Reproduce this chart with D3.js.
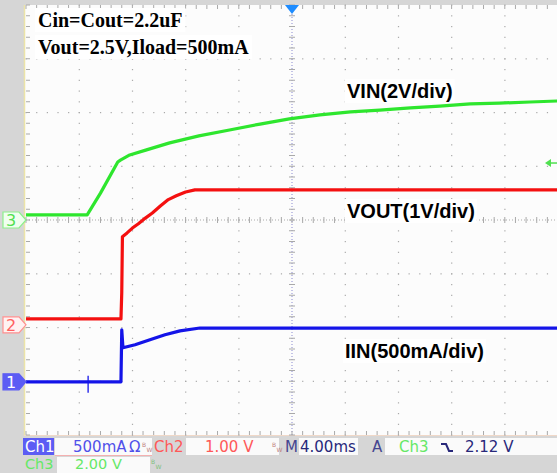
<!DOCTYPE html>
<html><head><meta charset="utf-8">
<script src="https://cdn.jsdelivr.net/npm/d3@7"></script>
<style>html,body{margin:0;padding:0;background:#d6d6d6;}svg{display:block}</style>
</head><body><svg id="c" width="557" height="473"></svg>
<script>
// ---- data (time in ms, trigger at 0) ----
const vinTime  = [-20, -15.4, -14.4, -13.1, -12.9, -12.2, -11, -9.2, -7, -4.7, -2.4, -0.2, 2.1, 4.4, 6.6, 8.9, 11.1, 13.4, 15.6, 17.9, 20];
const vinVolts = [0.19, 0.19, 1.0, 2.16, 2.23, 2.42, 2.6, 2.87, 3.13, 3.35, 3.57, 3.76, 3.91, 4.02, 4.09, 4.17, 4.24, 4.32, 4.35, 4.39, 4.43];
const voutTime  = [-20, -12.86, -12.8, -12.75, -12.4, -12.0, -11.55, -11.0, -10.5, -9.9, -9.3, -8.7, -8.0, -7.3, 20];
const voutVolts = [0.11, 0.11, 0.6, 1.64, 1.71, 1.80, 1.88, 1.99, 2.08, 2.21, 2.33, 2.40, 2.47, 2.51, 2.51];
const iinTime = [-20, -12.86, -12.8, -12.71, -11.8, -10.68, -9.55, -8.42, -6.92, 20];
const iinMilliamps = [0, 0, 484, 316, 344, 391, 437, 474, 500, 500];
const glitchTime = -15.33, glitchMin = -102, glitchMax = 56;
const seriesLabels = ["VIN(2V/div)", "VOUT(1V/div)", "IIN(500mA/div)"];
const noteLines = ["Cin=Cout=2.2uF", "Vout=2.5V,Iload=500mA"];
const triggerLevel = 2.12;

const svg = d3.select("#c");
const X0 = 26, X1 = 558, Y0 = 5, Y1 = 435;
const xScale = d3.scaleLinear().domain([-20, 20]).range([X0, X1]);
const yDiv = d3.scaleLinear().domain([-4, 4]).range([Y1, Y0]);
function chScale(perDiv, offDiv){ return d3.scaleLinear().domain([(-4-offDiv)*perDiv, (4-offDiv)*perDiv]).range([Y1, Y0]); }
const y3 = chScale(2, 0), y2 = chScale(1, -1.95), y1 = chScale(500, -3.01);

svg.append("rect").attr("width",557).attr("height",473).attr("fill","#d6d6d6");
svg.append("rect").attr("x",24).attr("y",Y0).attr("width",540).attr("height",Y1-Y0+1).attr("fill","#fcfcfc");
svg.append("line").attr("x1",24.5).attr("x2",24.5).attr("y1",Y0).attr("y2",Y1+1).attr("stroke","#ece4a8").attr("stroke-width",1.5);
svg.append("line").attr("x1",24).attr("x2",557).attr("y1",Y1+0.5).attr("y2",Y1+0.5).attr("stroke","#f0d8c8");

const g = svg.append("g");
const gridCol = "#a9a9a9";
const divX = d3.range(-16, 17, 4).filter(t => t !== 0);
const divY = d3.range(-3, 4, 1).filter(d => d !== 0);
const minorX = d3.range(-20, 20.01, 0.8);
const minorY = d3.range(-4, 4.01, 0.2);
divX.forEach(t => minorY.forEach(d => g.append("rect").attr("x", xScale(t)-0.5).attr("y", yDiv(d)-0.5).attr("width",1.2).attr("height",1.2).attr("fill",gridCol)));
divY.forEach(d => minorX.forEach(t => g.append("rect").attr("x", xScale(t)-0.5).attr("y", yDiv(d)-0.5).attr("width",1.2).attr("height",1.2).attr("fill",gridCol)));
d3.range(X0, X1, 3).forEach(x => g.append("rect").attr("x",x).attr("y",yDiv(0)-0.5).attr("width",1).attr("height",1).attr("fill",gridCol));
d3.range(Y0, Y1, 3).forEach(y => g.append("rect").attr("x",xScale(0)-0.5).attr("y",y).attr("width",1).attr("height",1).attr("fill","#8a8ad0"));
minorX.forEach(t => {
  g.append("line").attr("x1",xScale(t)).attr("x2",xScale(t)).attr("y1",yDiv(0)-3).attr("y2",yDiv(0)+3).attr("stroke",gridCol);
  g.append("line").attr("x1",xScale(t)).attr("x2",xScale(t)).attr("y1",Y0).attr("y2",Y0+4).attr("stroke",gridCol);
  g.append("line").attr("x1",xScale(t)).attr("x2",xScale(t)).attr("y1",Y1-4).attr("y2",Y1).attr("stroke",gridCol);
});
minorY.forEach(d => {
  g.append("line").attr("x1",xScale(0)-3).attr("x2",xScale(0)+3).attr("y1",yDiv(d)).attr("y2",yDiv(d)).attr("stroke",gridCol);
  g.append("line").attr("x1",X0).attr("x2",X0+4).attr("y1",yDiv(d)).attr("y2",yDiv(d)).attr("stroke",gridCol);
});

function boxedText(x, y, txt, font, size, weight, pad){
  const t = svg.append("text").attr("x",x).attr("y",y).text(txt)
    .attr("font-family",font).attr("font-size",size).attr("font-weight",weight).attr("fill","#000");
  const b = t.node().getBBox();
  svg.insert("rect", () => t.node()).attr("x",b.x-pad).attr("y",b.y-1).attr("width",b.width+2*pad).attr("height",b.height+2).attr("fill","#fff");
  return t;
}
boxedText(38, 27, noteLines[0], "Liberation Serif", 20, "bold", 3);
boxedText(38, 54, noteLines[1], "Liberation Serif", 20, "bold", 3);
boxedText(347, 98, seriesLabels[0], "Liberation Sans", 20, "bold", 2);
boxedText(347, 218, seriesLabels[1], "Liberation Sans", 20, "bold", 2);
boxedText(345, 358, seriesLabels[2], "Liberation Sans", 20, "bold", 2);

svg.append("clipPath").attr("id","pc").append("rect").attr("x",X0).attr("y",Y0).attr("width",X1-X0).attr("height",Y1-Y0);
const tr = svg.append("g").attr("clip-path","url(#pc)");
function trace(ts, vs, ys, col){
  const line = d3.line().x(d=>xScale(d[0])).y(d=>ys(d[1]));
  tr.append("path").attr("d", line(ts.map((t,i)=>[t, vs[i]]))).attr("fill","none").attr("stroke",col).attr("stroke-width",3.2).attr("stroke-linejoin","round");
}
trace(vinTime, vinVolts, y3, "#2ee62e");
trace(voutTime, voutVolts, y2, "#f41010");
trace(iinTime, iinMilliamps, y1, "#1414e8");
tr.append("line").attr("x1",xScale(glitchTime)).attr("x2",xScale(glitchTime))
  .attr("y1",y1(glitchMin)).attr("y2",y1(glitchMax)).attr("stroke","#1414e8").attr("stroke-width",1.3);

function marker(y, label, fill, stroke, tcol){
  svg.append("path").attr("d",`M3,${y-8}H19L26,${y}L19,${y+8}H3Z`).attr("fill",fill).attr("stroke",stroke).attr("stroke-width",1.2);
  svg.append("text").attr("x",11).attr("y",y+6).attr("text-anchor","middle").text(label)
    .attr("font-family","DejaVu Sans").attr("font-size",16).attr("fill",tcol);
}
marker(y3(0), "3", "#f0fff0", "#8cf08c", "#50e050");
marker(y2(0), "2", "#fff2f2", "#ff9090", "#ff6060");
marker(y1(0), "1", "#5c5cf4", "#5c5cf4", "#ffffff");
svg.append("path").attr("d",`M${xScale(0)-7},${Y0}H${xScale(0)+7}L${xScale(0)},${Y0+9}Z`).attr("fill","#1e8cff");
const ty = y3(triggerLevel);
svg.append("path").attr("d",`M545,${ty}L551,${ty-4}V${ty+4}Z`).attr("fill","#50e050");
svg.append("line").attr("x1",549).attr("x2",557).attr("y1",ty).attr("y2",ty).attr("stroke","#50e050").attr("stroke-width",1.5);

const sb = svg.append("g").attr("font-family","DejaVu Sans").attr("font-size",15);
function box(x,y,w,h,f){ sb.append("rect").attr("x",x).attr("y",y).attr("width",w).attr("height",h).attr("fill",f); }
function txt(x,y,s,c,fs){ sb.append("text").attr("x",x).attr("y",y).text(s).attr("fill",c).attr("font-size",fs||15); }
function bw(x,y,c){ txt(x,y-5,"B",c,6); txt(x+4.5,y,"W",c,6); }
box(23,438,31,17,"#5c5cf4"); txt(25,452,"Ch1","#ffffff");
box(55,438,97,17,"#fafafa"); sb.append("line").attr("x1",55).attr("x2",152).attr("y1",455.5).attr("y2",455.5).attr("stroke","#f4b0b0");
txt(73,452,"500mA","#5050ea"); txt(129,452,"Ω","#5050ea"); bw(142,452,"#c08080");
txt(154,452,"Ch2","#ff5858");
box(186,438,93,17,"#fafafa"); txt(205,452,"1.00 V","#ff5858"); bw(272,452,"#c08080");
txt(285,452,"M","#454590");
box(299,438,59,17,"#fafafa"); txt(300,452,"4.00ms","#28287a");
txt(372,452,"A","#454590");
box(385,438,172,17,"#fafafa"); txt(399,452,"Ch3","#66e866");
sb.append("path").attr("d","M441,444H446L449,451H453").attr("fill","none").attr("stroke","#28287a").attr("stroke-width",2);
txt(465,452,"2.12 V","#28287a");
txt(25,469,"Ch3","#66e866",14.5);
box(57,457,93,16,"#fafafa"); txt(75,469,"2.00 V","#66e866",14.5); bw(151,469,"#80c080");
</script></body></html>
